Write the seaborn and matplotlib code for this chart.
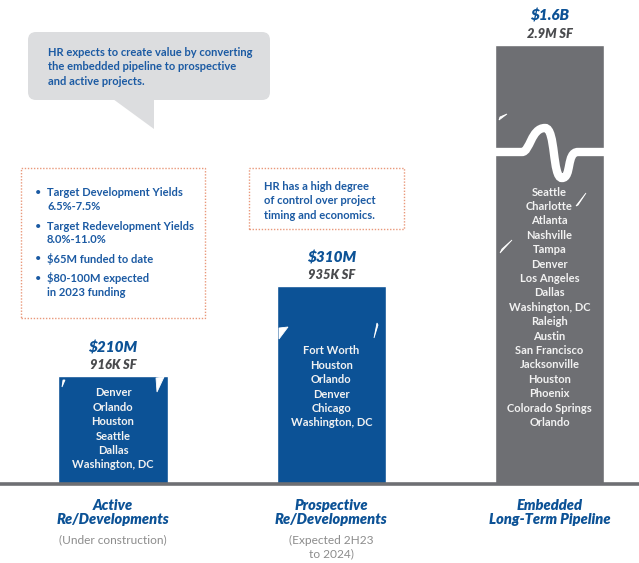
import matplotlib
matplotlib.use("Agg")
import matplotlib.pyplot as plt
import seaborn as sns
from matplotlib.patches import FancyBboxPatch, Rectangle, Polygon, PathPatch
from matplotlib.path import Path

# ---------------- data ----------------
categories = ["Active\nRe/Developments", "Prospective\nRe/Developments", "Embedded\nLong-Term Pipeline"]
value_labels = ["$210M", "$310M", "$1.6B"]
sf_labels = ["916K SF", "935K SF", "2.9M SF"]
bar_heights = [108, 198, 439]  # displayed heights (broken scale, as drawn)
subtitles = [["(Under construction)"], ["(Expected 2H23", "to 2024)"], []]
cities_active = ["Denver", "Orlando", "Houston", "Seattle", "Dallas", "Washington, DC"]
cities_prospective = ["Fort Worth", "Houston", "Orlando", "Denver", "Chicago", "Washington, DC"]
cities_embedded = ["Seattle", "Charlotte", "Atlanta", "Nashville", "Tampa", "Denver",
                   "Los Angeles", "Dallas", "Washington, DC", "Raleigh", "Austin",
                   "San Francisco", "Jacksonville", "Houston", "Phoenix",
                   "Colorado Springs", "Orlando"]
bubble_text = "HR expects to create value by converting\nthe embedded pipeline to prospective\nand active projects."
bullets = [("Target Development Yields", "6.5%-7.5%"),
           ("Target Redevelopment Yields", "8.0%-11.0%"),
           ("$65M funded to date", None),
           ("$80-100M expected", "in 2023 funding")]
control_text = "HR has a high degree\nof control over project\ntiming and economics."

BLUE = "#0C5296"
TXT_BLUE = "#1B5AA3"
GRAY = "#6E6F73"
BUBBLE = "#DCDDDF"
DOT = "#E9987A"

sns.set_theme(style="white")
plt.rcParams["font.family"] = ["Lato", "DejaVu Sans"]

W, H = 639, 563
fig = plt.figure(figsize=(W / 100, H / 100), dpi=100)
ax = fig.add_axes([0, 0, 1, 1])

sns.barplot(x=categories, y=bar_heights, hue=categories,
            palette=[BLUE, BLUE, GRAY], width=0.5, legend=False,
            saturation=1, ax=ax)

UNIT = 218.25
X0 = 113.0
ax.set_xlim(-X0 / UNIT, (W - X0) / UNIT)
ax.set_ylim(-(H - 484), 484)
ax.axis("off")

def P(px, py):
    return (px / 100.0, (H - py) / 100.0)

T = fig.dpi_scale_trans

# baseline
ax.plot([-X0 / UNIT, (W - X0) / UNIT], [0, 0], color=GRAY, lw=2.6,
        solid_capstyle="butt", zorder=5)

# break in embedded bar
verts = [P(490, 152), P(522, 152),
         P(530, 152), P(531, 128), P(545, 128),
         P(556, 128), P(552, 178), P(562, 178),
         P(572, 178), P(566, 152), P(578, 152),
         P(610, 152)]
codes = [Path.MOVETO, Path.LINETO,
         Path.CURVE4, Path.CURVE4, Path.CURVE4,
         Path.CURVE4, Path.CURVE4, Path.CURVE4,
         Path.CURVE4, Path.CURVE4, Path.CURVE4,
         Path.LINETO]
fig.patches.append(PathPatch(Path(verts, codes), transform=T, fill=False,
                             edgecolor="white", lw=6, capstyle="round", zorder=10))

# small white brush-stroke marks on the bars (decorative)
strokes = [
    [(156, 378), (164, 377), (157, 392)],
    [(63, 380), (65, 380), (62, 387)],
    [(279, 328), (288, 327), (279, 339)],
    [(377, 323), (378, 325), (374, 338)],
    [(499, 120), (507, 114), (500, 117)],
    [(576, 206), (586, 193), (578, 205)],
    [(500, 253), (512, 240), (502, 249)],
]
for s in strokes:
    fig.patches.append(Polygon([P(x, y) for x, y in s], closed=True, transform=T,
                               facecolor="white", edgecolor="white", lw=0.6, zorder=11))

hand = dict(fontweight="heavy", fontstyle="italic")
FS = 8.0

# value labels and cities
city_lists = [cities_active, cities_prospective, cities_embedded]
val_y = [348, 257, 16]
sf_y = [365, 275, 34]
city_y0 = [393, 351, 192]
for i in range(3):
    ax.text(i, 484 - val_y[i], value_labels[i], ha="center", va="center",
            color=BLUE, fontsize=11, **hand)
    ax.text(i, 484 - sf_y[i], sf_labels[i], ha="center", va="center",
            color="#4A4B4E", fontsize=9.3, **hand)
    for k, c in enumerate(city_lists[i]):
        ax.text(i, 484 - (city_y0[i] + 14.4 * k), c, ha="center", va="center",
                color="#F2F2F2", fontsize=FS, fontweight="bold", zorder=12)
    ax.text(i, 484 - 505, categories[i].split("\n")[0], ha="center", va="center",
            color=BLUE, fontsize=10.5, **hand)
    ax.text(i, 484 - 520, categories[i].split("\n")[1], ha="center", va="center",
            color=BLUE, fontsize=10.5, **hand)
    for k, s in enumerate(subtitles[i]):
        ax.text(i, 484 - (540 + 13.5 * k), s, ha="center", va="center",
                color="#8C8C8C", fontsize=8.6)

# speech bubble
fig.patches.append(FancyBboxPatch(P(28, 100), 242 / 100, 68 / 100,
                                  boxstyle="round,pad=0,rounding_size=0.08",
                                  transform=T, facecolor=BUBBLE, edgecolor="none"))
fig.patches.append(Polygon([P(113, 99), P(154, 99), P(154, 129)], closed=True,
                           transform=T, facecolor=BUBBLE, edgecolor="none"))
fig.text(48 / W, 1 - 47 / H, bubble_text, ha="left", va="top", color=TXT_BLUE,
         fontsize=FS, fontweight="bold", linespacing=1.38)

# dotted boxes
fig.patches.append(Rectangle(P(21, 318), 184 / 100, 150 / 100, transform=T,
                             fill=False, edgecolor=DOT, lw=1.0, linestyle=(0, (1, 1.2))))
fig.patches.append(Rectangle(P(249, 229), 155 / 100, 61 / 100, transform=T,
                             fill=False, edgecolor=DOT, lw=1.0, linestyle=(0, (1, 1.2))))

by = [193, 226, 259, 278]
for (l1, l2), y in zip(bullets, by):
    fig.text(35 / W, 1 - y / H, "\u2022", ha="left", va="center", color=TXT_BLUE, fontsize=FS)
    fig.text(47 / W, 1 - y / H, l1, ha="left", va="center", color=TXT_BLUE,
             fontsize=FS, fontweight="bold")
    if l2:
        fig.text(47 / W, 1 - (y + 14) / H, l2, ha="left", va="center", color=TXT_BLUE,
                 fontsize=FS, fontweight="bold")

fig.text(264 / W, 1 - 181 / H, control_text, ha="left", va="top", color=TXT_BLUE,
         fontsize=FS, fontweight="bold", linespacing=1.38)

fig.savefig("out.png", dpi=100)
